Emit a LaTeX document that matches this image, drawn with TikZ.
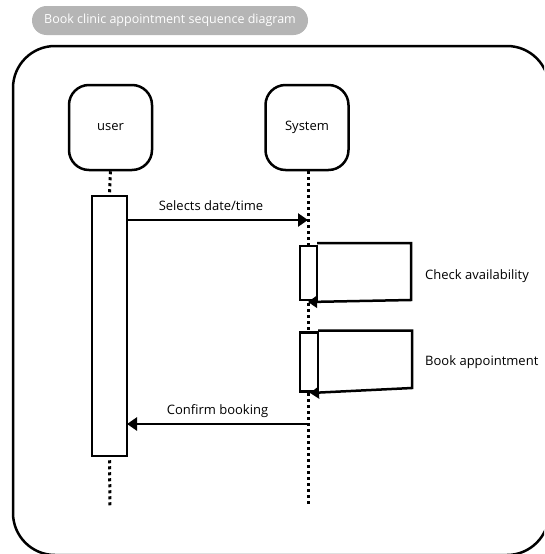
\documentclass[tikz,border=0pt]{standalone}
\usepackage{fontspec}
\setmainfont{Open Sans}
\usetikzlibrary{arrows.meta}
\definecolor{pillgray}{HTML}{B5B5B5}
\tikzset{
  px/.style={x=1pt,y=-1pt},
  actor/.style={draw,line width=2.5pt,rounded corners=20pt,minimum width=83pt,minimum height=85pt,inner sep=0pt,font=\fontsize{13}{15}\selectfont},
  actbar/.style={draw,fill=white,line width=2.5pt},
  lifeline/.style={line width=3pt,dash pattern=on 3pt off 3pt},
  msg/.style={line width=2.5pt,-{Triangle[length=10pt,width=13pt]}},
  lbl/.style={font=\fontsize{13}{15}\selectfont,inner sep=0pt}
}
\begin{document}
\begin{tikzpicture}[px]
\useasboundingbox (0,0) rectangle (544,554);
\begin{scope}
  \clip (0,0) rectangle (544,554);
  % outer frame
  \draw[line width=2.5pt,rounded corners=42pt] (13,46) rectangle (549,555);
\end{scope}
% title pill
\node[fill=pillgray,rounded corners=14.5pt,minimum width=276pt,minimum height=29pt,inner sep=0pt,text=white,font=\fontsize{12.5}{14}\selectfont] (title) at (170,20.5) {Book clinic appointment sequence diagram};

% participants
\node[actor] (user) at (110.5,127.5) {user};
\node[actor] (sys) at (307,127.5) {System};

% lifeline ends
\coordinate (uend) at (110,506);
\coordinate (send) at (308,506);

% user activation bar
\node[actbar,minimum width=35pt,minimum height=260pt,inner sep=0pt] (uact) at (109.5,326) {};

\draw[lifeline] (user.south) -- (uact.north);
\draw[lifeline] (uact.south) ++(0,3) -- (uend);
\draw[lifeline] (sys.south) ++(1,0) -- (send);

% selects date/time
\coordinate (m1s) at (127,220);
\coordinate (m1e) at (308,220);
\draw[msg] (m1s) -- (m1e);
\node[lbl] (m1l) at (211,206) {Selects date/time};

% check availability self call
\node[actbar,minimum width=17pt,minimum height=54pt,inner sep=0pt] (sa1) at (308.5,273) {};
\coordinate (c1a) at (317,243);
\coordinate (c1b) at (411,243);
\coordinate (c1c) at (411,300);
\coordinate (c1d) at (308,302);
\draw[line width=2.5pt,-{Triangle[length=9pt,width=12pt]}] (c1a) -- (c1b) -- (c1c) -- (c1d);
\node[lbl,anchor=west] (c1l) at (425,276) {Check availability};

% book appointment self call
\node[actbar,minimum width=18pt,minimum height=59pt,inner sep=0pt] (sa2) at (309,362) {};
\coordinate (c2a) at (318,330.5);
\coordinate (c2b) at (412,330.5);
\coordinate (c2c) at (412,388);
\coordinate (c2d) at (310,393);
\draw[line width=2.5pt,-{Triangle[length=9pt,width=12pt]}] (c2a) -- (c2b) -- (c2c) -- (c2d);
\node[lbl,anchor=west] (c2l) at (425,362) {Book appointment};

% confirm booking
\coordinate (m2s) at (308,424);
\coordinate (m2e) at (127,424);
\draw[msg] (m2s) -- (m2e);
\node[lbl] (m2l) at (217.5,411) {Confirm booking};
\end{tikzpicture}
\end{document}
